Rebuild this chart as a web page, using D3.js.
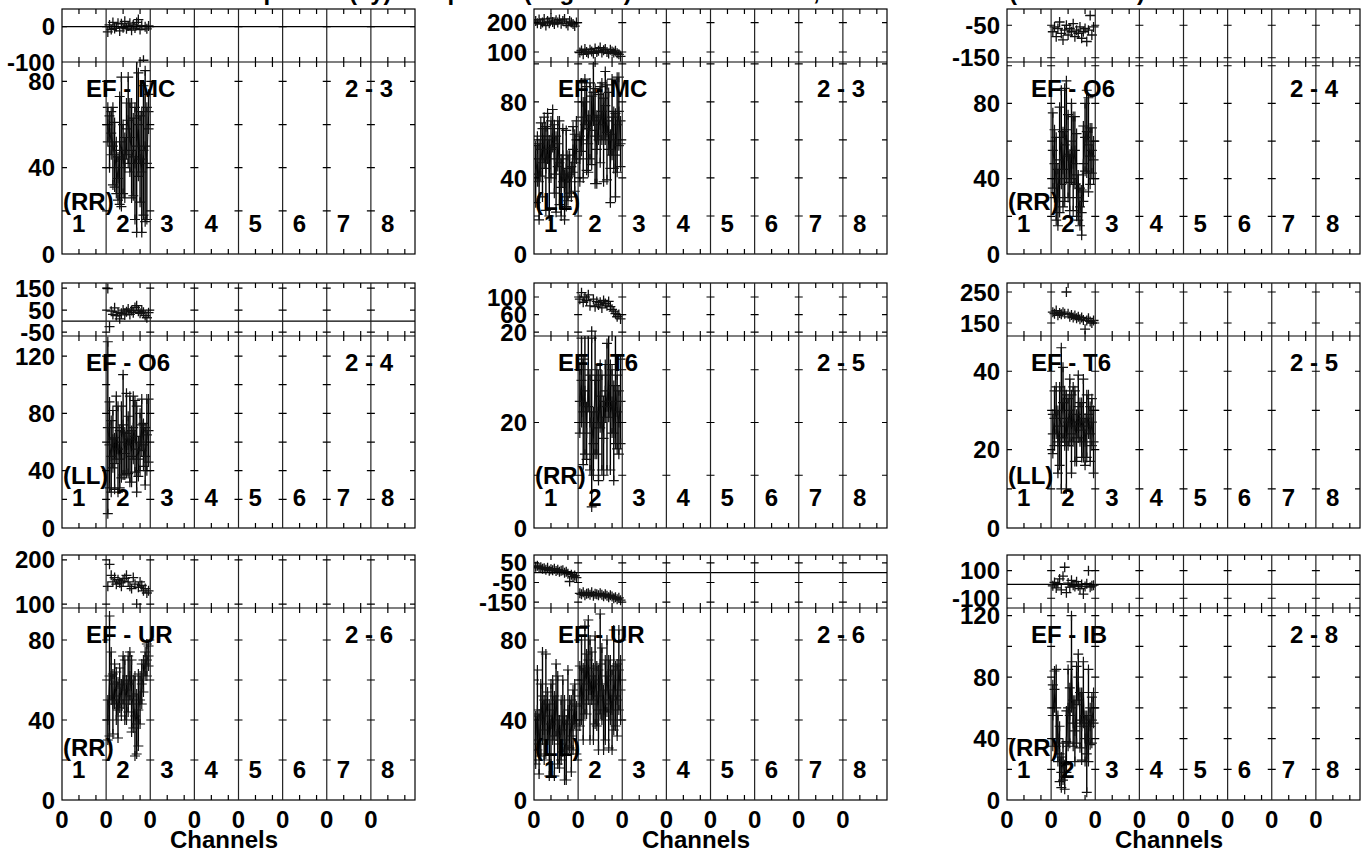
<!DOCTYPE html>
<html>
<head>
<meta charset="utf-8">
<script src="https://cdn.jsdelivr.net/npm/d3@7"></script>
<style>
  html, body { margin: 0; padding: 0; background: #fff; }
  svg { display: block; }
  text { font-family: "Liberation Sans", Arial, Helvetica, sans-serif; font-weight: bold; fill: #000; }
</style>
</head>
<body>
<svg id="chart" width="1370" height="855"></svg>
<script>
// ---------------- DATA ----------------
const titleText = "Amplitude (Jy) and phase (degrees) versus channel, baselines to EF (RR and LL)";
const ifLabels = ["1", "2", "3", "4", "5", "6", "7", "8"];
const xTickLabels = ["0", "0", "0", "0", "0", "0", "0", "0"];
const xAxisTitle = "Channels";
const channels = [1, 2, 3, 4, 5, 6, 7, 8, 9, 10, 11, 12, 13, 14, 15, 16, 17, 18, 19, 20, 21, 22, 23, 24, 25];
const channelsPerIF = 26;
const channelTicks = [10, 20];

const baselineNames = ["EF - MC", "EF - MC", "EF - O6", "EF - O6", "EF - T6", "EF - T6", "EF - UR", "EF - UR", "EF - IB"];
const antennaPairs = ["2 - 3", "2 - 3", "2 - 4", "2 - 4", "2 - 5", "2 - 5", "2 - 6", "2 - 6", "2 - 8"];
const polarizations = ["(RR)", "(LL)", "(RR)", "(LL)", "(RR)", "(LL)", "(RR)", "(LL)", "(RR)"];

const ampMax = [89, 101, 102, 134, 36.4, 49, 96, 96, 125];
const ampLabelStep = [40, 40, 40, 40, 20, 20, 40, 40, 40];
const ampTickStep = [20, 20, 20, 20, 10, 10, 20, 20, 20];
const phaseDomains = [[-100, 50], [66, 246], [-163, 0], [-68, 173], [11, 132], [108, 279], [91, 211], [-180, 90], [-171, 214]];
const phaseTickLabels = [[0, -100], [200, 100], [-50, -150], [150, 50, -50], [100, 60, 20], [250, 150], [200, 100], [50, -50, -150], [100, -100]];

// EF - MC (RR), IF 2
const mcRR_if2_amp   = [60, 52, 56, 50, 46, 40, 35, 48, 52, 44, 40, 58, 62, 54, 48, 45, 42, 50, 60, 44, 38, 48, 50, 42, 66];
const mcRR_if2_err   = [8, 12, 10, 18, 15, 12, 10, 25, 30, 16, 14, 12, 20, 16, 22, 18, 26, 40, 24, 20, 28, 30, 35, 26, 8];
const mcRR_if2_phase = [-15, 5, -8, 12, -5, 0, 10, -12, 8, -3, 15, -6, 2, 10, -10, 5, -4, 12, 20, -8, 3, -95, 0, -6, 2];
// EF - MC (LL), IF 1 and IF 2
const mcLL_if1_amp   = [42, 50, 38, 55, 48, 60, 45, 62, 40, 55, 66, 50, 42, 58, 48, 35, 52, 30, 45, 40, 42, 38, 55, 48, 60];
const mcLL_if1_err   = [15, 12, 20, 14, 18, 12, 22, 12, 20, 15, 10, 18, 20, 12, 22, 15, 14, 12, 20, 12, 10, 8, 12, 15, 10];
const mcLL_if1_phase = [205, 198, 210, 195, 200, 212, 190, 205, 198, 215, 202, 195, 208, 200, 210, 196, 205, 212, 198, 190, 205, 200, 195, 188, 200];
const mcLL_if2_amp   = [50, 72, 60, 80, 66, 58, 70, 65, 85, 62, 55, 72, 68, 75, 60, 78, 64, 70, 45, 72, 60, 52, 68, 75, 58];
const mcLL_if2_err   = [12, 18, 20, 12, 22, 15, 20, 18, 15, 25, 18, 12, 20, 15, 22, 18, 25, 15, 18, 20, 15, 22, 25, 18, 12];
const mcLL_if2_phase = [98, 105, 92, 110, 100, 96, 108, 102, 95, 112, 100, 104, 115, 98, 106, 110, 100, 95, 108, 102, 98, 104, 96, 92, 85];
// EF - O6 (RR), IF 2
const o6RR_if2_amp   = [55, 48, 40, 30, 50, 62, 45, 58, 66, 52, 38, 60, 48, 55, 42, 30, 25, 22, 48, 62, 65, 58, 52, 55, 50];
const o6RR_if2_err   = [20, 18, 22, 15, 28, 25, 20, 30, 26, 22, 15, 20, 25, 18, 22, 12, 10, 12, 20, 18, 22, 25, 15, 12, 10];
const o6RR_if2_phase = [-70, -55, -85, -60, -40, -75, -95, -65, -50, -80, -60, -70, -45, -85, -65, -75, -55, -90, -70, -60, -100, -65, -20, -80, -55];
// EF - O6 (LL), IF 2
const o6LL_if2_amp   = [70, 58, 50, 62, 45, 70, 55, 48, 60, 72, 52, 66, 58, 62, 50, 70, 64, 55, 48, 60, 72, 58, 50, 65, 68];
const o6LL_if2_err   = [60, 30, 25, 20, 18, 22, 30, 20, 25, 35, 15, 28, 20, 30, 18, 22, 25, 30, 12, 20, 18, 15, 20, 25, 22];
const o6LL_if2_phase = [148, -25, 45, 30, 60, 25, 40, 10, 35, 50, 28, 42, 55, 30, 48, 38, 62, 70, 45, 35, 50, 40, 25, 15, 38];
// EF - T6 (RR), IF 2
const t6RR_if2_amp   = [24, 28, 22, 26, 18, 30, 20, 20, 16, 28, 22, 19, 25, 20, 17, 26, 23, 29, 21, 24, 18, 27, 22, 20, 24];
const t6RR_if2_err   = [6, 8, 10, 12, 5, 7, 9, 16, 6, 14, 8, 10, 6, 9, 7, 5, 12, 8, 10, 6, 9, 11, 7, 6, 8];
const t6RR_if2_phase = [95, 110, 88, 100, 92, 105, 80, 22, 95, 78, 90, 82, 88, 75, 92, 85, 80, 90, 78, 72, 68, 62, 55, 60, 50];
// EF - T6 (LL), IF 2
const t6LL_if2_amp   = [24, 28, 30, 22, 26, 28, 32, 28, 22, 27, 30, 24, 29, 26, 23, 31, 27, 25, 28, 22, 26, 29, 24, 27, 22];
const t6LL_if2_err   = [5, 7, 6, 8, 10, 18, 9, 7, 12, 6, 8, 10, 7, 9, 6, 8, 5, 7, 10, 6, 8, 5, 7, 6, 8];
const t6LL_if2_phase = [185, 180, 190, 175, 182, 178, 185, 180, 250, 180, 170, 176, 168, 174, 165, 170, 162, 168, 160, 130, 158, 165, 155, 150, 158];
// EF - UR (RR), IF 2
const urRR_if2_amp   = [40, 62, 62, 48, 58, 52, 45, 56, 50, 60, 55, 50, 58, 62, 52, 48, 42, 38, 45, 50, 58, 62, 68, 70, 72];
const urRR_if2_err   = [10, 30, 12, 15, 10, 12, 14, 10, 8, 12, 15, 10, 14, 12, 18, 12, 20, 15, 18, 12, 10, 8, 6, 8, 5];
const urRR_if2_phase = [140, 190, 165, 150, 160, 145, 155, 148, 140, 152, 158, 165, 150, 140, 135, 160, 145, 100, 138, 150, 142, 130, 135, 125, 130];
// EF - UR (LL), IF 1 and IF 2
const urLL_if1_amp   = [30, 45, 28, 40, 52, 35, 48, 42, 30, 38, 45, 32, 50, 40, 28, 35, 42, 30, 25, 45, 38, 32, 40, 48, 35];
const urLL_if1_err   = [12, 20, 15, 18, 22, 15, 25, 12, 18, 20, 15, 20, 18, 22, 12, 15, 18, 20, 15, 20, 12, 18, 15, 10, 12];
const urLL_if1_phase = [30, 35, 25, 28, 20, 22, 15, 25, 10, 18, 12, 20, 8, 15, 5, 10, 12, 0, 5, -5, -45, -10, -20, -15, -25];
const urLL_if2_amp   = [52, 60, 48, 65, 58, 70, 55, 62, 48, 60, 52, 45, 68, 58, 40, 50, 62, 48, 55, 45, 60, 52, 50, 65, 55];
const urLL_if2_err   = [15, 20, 18, 22, 15, 20, 25, 12, 18, 22, 15, 20, 25, 18, 15, 20, 18, 22, 15, 20, 25, 15, 18, 20, 15];
const urLL_if2_phase = [-105, -110, -100, -115, -108, -105, -112, -100, -118, -108, -110, -115, -105, -112, -120, -110, -118, -125, -115, -122, -130, -125, -135, -128, -140];
// EF - IB (RR), IF 2
const ibRR_if2_amp   = [55, 72, 60, 40, 30, 18, 25, 15, 38, 60, 55, 90, 50, 45, 62, 80, 52, 48, 70, 40, 30, 55, 48, 52, 60];
const ibRR_if2_err   = [20, 12, 25, 15, 18, 10, 12, 8, 20, 25, 18, 30, 15, 20, 25, 15, 18, 22, 20, 15, 25, 30, 12, 15, 10];
const ibRR_if2_phase = [-10, 15, -25, 5, 40, -40, 60, 125, -60, 10, -20, 30, -5, -15, 20, -10, -30, 0, -70, -15, 5, 100, -20, -10, -5];

const panelSeries = [
  [{ ifIndex: 1, amp: mcRR_if2_amp, err: mcRR_if2_err, phase: mcRR_if2_phase }],
  [{ ifIndex: 0, amp: mcLL_if1_amp, err: mcLL_if1_err, phase: mcLL_if1_phase },
   { ifIndex: 1, amp: mcLL_if2_amp, err: mcLL_if2_err, phase: mcLL_if2_phase }],
  [{ ifIndex: 1, amp: o6RR_if2_amp, err: o6RR_if2_err, phase: o6RR_if2_phase }],
  [{ ifIndex: 1, amp: o6LL_if2_amp, err: o6LL_if2_err, phase: o6LL_if2_phase }],
  [{ ifIndex: 1, amp: t6RR_if2_amp, err: t6RR_if2_err, phase: t6RR_if2_phase }],
  [{ ifIndex: 1, amp: t6LL_if2_amp, err: t6LL_if2_err, phase: t6LL_if2_phase }],
  [{ ifIndex: 1, amp: urRR_if2_amp, err: urRR_if2_err, phase: urRR_if2_phase }],
  [{ ifIndex: 0, amp: urLL_if1_amp, err: urLL_if1_err, phase: urLL_if1_phase },
   { ifIndex: 1, amp: urLL_if2_amp, err: urLL_if2_err, phase: urLL_if2_phase }],
  [{ ifIndex: 1, amp: ibRR_if2_amp, err: ibRR_if2_err, phase: ibRR_if2_phase }]
];

// ---------------- LAYOUT ----------------
const colLeft = [62, 534, 1007];
const panelW = 353;
const rowTop = [9, 283, 555];
const phaseH = 53;
const ampH = 192;
const FS = 24;

const svg = d3.select("#chart");

// Title (cut off at the top of the page in the reference)
svg.append("text").attr("x", 685).attr("y", 0).attr("text-anchor", "middle")
  .style("font-size", FS + "px").text(titleText);

const plus = (x, y, s) => `M${x - s},${y}H${x + s}M${x},${y - s}V${y + s}`;

const nIF = ifLabels.length;

for (let p = 0; p < 9; p++) {
  const row = Math.floor(p / 3), col = p % 3;
  const left = colLeft[col], right = left + panelW;
  const top = rowTop[row], mid = top + phaseH, bottom = mid + ampH;

  const x = d3.scaleLinear().domain([0, nIF * channelsPerIF]).range([left, right]);
  const yP = d3.scaleLinear().domain(phaseDomains[p]).range([mid, top]);
  const yA = d3.scaleLinear().domain([0, ampMax[p]]).range([bottom, mid]);

  const g = svg.append("g");

  // clip paths
  const cpP = "clipP" + p, cpA = "clipA" + p;
  const defs = g.append("defs");
  defs.append("clipPath").attr("id", cpP).append("rect")
    .attr("x", left).attr("y", top).attr("width", panelW).attr("height", phaseH);
  defs.append("clipPath").attr("id", cpA).append("rect")
    .attr("x", left).attr("y", mid).attr("width", panelW).attr("height", ampH);

  // ---- data: phase ----
  const gp = g.append("g").attr("clip-path", `url(#${cpP})`);
  panelSeries[p].forEach(s => {
    const pts = channels.map((c, i) => ({ c: s.ifIndex * channelsPerIF + c, v: s.phase[i] }));
    gp.append("path")
      .attr("d", pts.map(d => plus(x(d.c), yP(d.v), 5)).join(""))
      .attr("fill", "none").attr("stroke", "#111").attr("stroke-width", 1.3);
  });

  // ---- data: amplitude ----
  const ga = g.append("g").attr("clip-path", `url(#${cpA})`);
  panelSeries[p].forEach(s => {
    const pts = channels.map((c, i) => ({ c: s.ifIndex * channelsPerIF + c, v: s.amp[i], e: s.err[i] }));
    ga.append("path")
      .attr("d", d3.line().x(d => x(d.c)).y(d => yA(d.v))(pts))
      .attr("fill", "none").attr("stroke", "#333").attr("stroke-width", 1.2);
    ga.append("path")
      .attr("d", pts.map(d => `M${x(d.c)},${yA(d.v - d.e)}V${yA(d.v + d.e)}`).join(""))
      .attr("fill", "none").attr("stroke", "#000").attr("stroke-width", 1.4);
    ga.append("path")
      .attr("d", pts.map(d => plus(x(d.c), yA(d.v), 5) + plus(x(d.c), yA(d.v + d.e), 5) + plus(x(d.c), yA(d.v - d.e), 5)).join(""))
      .attr("fill", "none").attr("stroke", "#111").attr("stroke-width", 1.2);
  });

  // ---- frame ----
  const frame = g.append("g").attr("stroke", "#000").attr("fill", "none").attr("stroke-width", 1.2);
  frame.append("rect").attr("x", left).attr("y", top).attr("width", panelW).attr("height", phaseH + ampH);
  frame.append("line").attr("x1", left).attr("x2", right).attr("y1", mid).attr("y2", mid);

  // zero line for phase
  const [p0, p1] = phaseDomains[p];
  if (p0 < 0 && p1 > 0) {
    frame.append("line").attr("x1", left).attr("x2", right).attr("y1", yP(0)).attr("y2", yP(0));
  }

  // IF dividers
  const ifStarts = d3.range(nIF).map(i => i * channelsPerIF);
  ifStarts.slice(1).forEach(c => {
    frame.append("line").attr("x1", x(c)).attr("x2", x(c)).attr("y1", top).attr("y2", bottom)
      .attr("stroke", "#222");
  });

  // x ticks (channels 10, 20 in each IF)
  const tl = 5;
  let dx = "";
  ifStarts.forEach(c0 => {
    channelTicks.forEach(t => {
      const xx = x(c0 + t);
      dx += `M${xx},${top}v${tl}M${xx},${mid - tl}v${2 * tl}M${xx},${bottom}v${-tl}`;
    });
  });
  frame.append("path").attr("d", dx);

  // y ticks (amplitude and phase) on edges and IF dividers
  const ampTicks = d3.range(0, ampMax[p] + 0.001, ampTickStep[p]);
  const phaseTicks = phaseTickLabels[p];
  let dy = "";
  const yTickAt = (yy) => {
    dy += `M${left},${yy}h${tl}M${right},${yy}h${-tl}`;
    ifStarts.slice(1).forEach(c => { dy += `M${x(c) - 4},${yy}h8`; });
  };
  ampTicks.forEach(v => { if (yA(v) > mid + 1 && yA(v) < bottom - 1) yTickAt(yA(v)); });
  phaseTicks.forEach(v => { if (yP(v) > top + 1 && yP(v) < mid - 1) yTickAt(yP(v)); });
  frame.append("path").attr("d", dy);

  // ---- y tick labels ----
  const labels = g.append("g").style("font-size", FS + "px").attr("text-anchor", "end");
  d3.range(0, ampMax[p] + 0.001, ampLabelStep[p]).forEach(v => {
    labels.append("text").attr("x", left - 7).attr("y", yA(v)).attr("dy", "0.36em").text(v);
  });
  phaseTicks.forEach(v => {
    labels.append("text").attr("x", left - 7).attr("y", yP(v)).attr("dy", "0.36em").text(v);
  });

  // ---- annotations ----
  const ann = g.append("g").style("font-size", FS + "px");
  ann.append("text").attr("x", left + 24).attr("y", mid + 35).text(baselineNames[p]);
  ann.append("text").attr("x", right - 22).attr("y", mid + 35).attr("text-anchor", "end").text(antennaPairs[p]);
  ann.append("text").attr("x", left + 1).attr("y", bottom - 44).text(polarizations[p]);
  ifLabels.forEach((lab, i) => {
    ann.append("text").attr("x", x(i * channelsPerIF) + 10).attr("y", bottom - 22).text(lab);
  });

  // ---- x axis labels on bottom row ----
  if (row === 2) {
    xTickLabels.forEach((lab, i) => {
      ann.append("text").attr("x", x(i * channelsPerIF)).attr("y", bottom + 28)
        .attr("text-anchor", "middle").text(lab);
    });
    ann.append("text").attr("x", left + 162).attr("y", bottom + 48)
      .attr("text-anchor", "middle").text(xAxisTitle);
  }
}
</script>
</body>
</html>
